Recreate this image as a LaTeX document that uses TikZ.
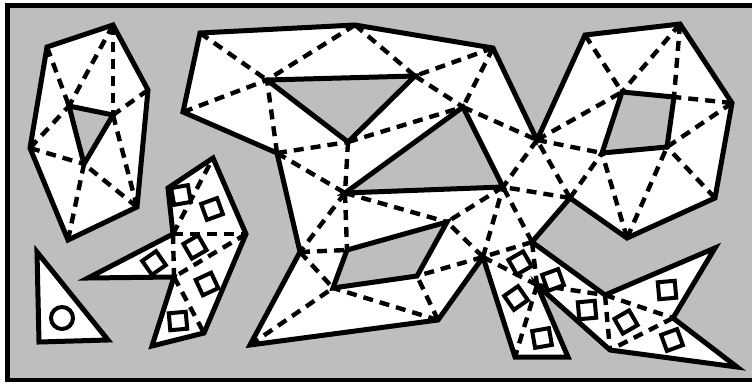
\documentclass[tikz,border=0pt]{standalone}
\usepackage{xcolor}
\definecolor{Field}{RGB}{190,190,190}
\tikzset{
  rim/.style={line width=5pt,line join=miter},
  diag/.style={line width=4.4pt,dash pattern=on 10pt off 7pt},
  guard/.style={draw,fill=white,line width=4pt,minimum size=17pt,inner sep=0pt},
}
\begin{document}
\begin{tikzpicture}[x=1pt,y=-1pt]
\useasboundingbox (0,0) rectangle (752,383);
\fill[white] (0,0) rectangle (752,383);
\draw[fill=Field,line width=4.4pt] (7.5,5.5) rectangle (770,380);
% top left piece
\coordinate (a1) at (47,47);
\coordinate (a2) at (113,25);
\coordinate (a3) at (148,90);
\coordinate (a4) at (137,207);
\coordinate (a5) at (68,240);
\coordinate (a6) at (30,148);
\coordinate (ah1) at (69,106);
\coordinate (ah2) at (113,115);
\coordinate (ah3) at (84,164);
% triangle with the ring
\coordinate (b1) at (37,252);
\coordinate (b2) at (108,340);
\coordinate (b3) at (39,342);
% arrow piece
\coordinate (c1) at (168,188);
\coordinate (c2) at (213,158);
\coordinate (c3) at (246,234);
\coordinate (c4) at (204,333);
\coordinate (c5) at (152,346);
\coordinate (c6) at (174,277);
\coordinate (c7) at (88,278);
\coordinate (c8) at (173,234);
% big piece, outline
\coordinate (d1) at (200,33);
\coordinate (d2) at (355,25);
\coordinate (d3) at (493,48);
\coordinate (d4) at (183,112);
\coordinate (d5) at (277,153);
\coordinate (d6) at (300,252);
\coordinate (d7) at (250,345);
\coordinate (d8) at (438,320);
\coordinate (e1) at (585,35);
\coordinate (e2) at (680,24);
\coordinate (e3) at (732,103);
\coordinate (e4) at (715,198);
\coordinate (e5) at (627,238);
\coordinate (e6) at (570,198);
\coordinate (e7) at (537,140);
\coordinate (f1) at (532,242);
\coordinate (f2) at (605,295);
\coordinate (f3) at (715,248);
\coordinate (f4) at (673,318);
\coordinate (f5) at (737,367);
\coordinate (f6) at (610,350);
\coordinate (f7) at (537,285);
\coordinate (f8) at (568,357);
\coordinate (f9) at (515,357);
\coordinate (f10) at (483,257);
% big piece, holes
\coordinate (g1) at (267,80);
\coordinate (g2) at (415,76);
\coordinate (g3) at (348,142);
\coordinate (k1) at (345,193);
\coordinate (k2) at (463,107);
\coordinate (k3) at (503,187);
\coordinate (p1) at (347,250);
\coordinate (p2) at (447,222);
\coordinate (p3) at (417,276);
\coordinate (p4) at (333,288);
\coordinate (q1) at (622,92);
\coordinate (q2) at (674,97);
\coordinate (q3) at (667,147);
\coordinate (q4) at (602,153);

% white pieces
\fill[white] (a1)--(a2)--(a3)--(a4)--(a5)--(a6)--cycle;
\fill[white] (b1)--(b2)--(b3)--cycle;
\fill[white] (c1)--(c2)--(c3)--(c4)--(c5)--(c6)--(c7)--(c8)--cycle;
\fill[white] (d1)--(d2)--(d3)--(e7)--(e1)--(e2)--(e3)--(e4)--(e5)--(e6)--(f1)--(f2)--(f3)--(f4)--(f5)--(f6)--(f7)--(f8)--(f9)--(f10)--(d8)--(d7)--(d6)--(d5)--(d4)--cycle;
\fill[Field] (ah1)--(ah2)--(ah3)--cycle;
\fill[Field] (g1)--(g2)--(g3)--cycle;
\fill[Field] (k1)--(k2)--(k3)--cycle;
\fill[Field] (p1)--(p2)--(p3)--(p4)--cycle;
\fill[Field] (q1)--(q2)--(q3)--(q4)--cycle;

% diagonals
\draw[diag] (a1)--(ah1);
\draw[diag] (a2)--(ah1);
\draw[diag] (a6)--(ah1);
\draw[diag] (a2)--(ah2);
\draw[diag] (a3)--(ah2);
\draw[diag] (a4)--(ah2);
\draw[diag] (a4)--(ah3);
\draw[diag] (a5)--(ah3);
\draw[diag] (a6)--(ah3);
\draw[diag] (c8)--(c2);
\draw[diag] (c8)--(c3);
\draw[diag] (c8)--(c6);
\draw[diag] (c3)--(c6);
\draw[diag] (c6)--(c4);
\draw[diag] (d1)--(g1);
\draw[diag] (d2)--(g1);
\draw[diag] (d4)--(g1);
\draw[diag] (d5)--(g1);
\draw[diag] (d5)--(g3);
\draw[diag] (d5)--(k1);
\draw[diag] (g3)--(k1);
\draw[diag] (g3)--(k2);
\draw[diag] (d2)--(g2);
\draw[diag] (d3)--(g2);
\draw[diag] (g2)--(k2);
\draw[diag] (d3)--(k2);
\draw[diag] (k2)--(e7);
\draw[diag] (e7)--(k3);
\draw[diag] (k3)--(p2);
\draw[diag] (k1)--(p2);
\draw[diag] (k1)--(d6);
\draw[diag] (k1)--(p1);
\draw[diag] (d6)--(p1);
\draw[diag] (d6)--(p4);
\draw[diag] (d7)--(p4);
\draw[diag] (d8)--(p4);
\draw[diag] (d8)--(p3);
\draw[diag] (f10)--(p3);
\draw[diag] (f10)--(p2);
\draw[diag] (f10)--(k3);
\draw[diag] (e6)--(k3);
\draw[diag] (e6)--(e7);
\draw[diag] (f1)--(k3);
\draw[diag] (f1)--(f10);
\draw[diag] (e1)--(q1);
\draw[diag] (e2)--(q1);
\draw[diag] (e2)--(q2);
\draw[diag] (e3)--(q2);
\draw[diag] (e3)--(q3);
\draw[diag] (e4)--(q3);
\draw[diag] (e5)--(q3);
\draw[diag] (e5)--(q4);
\draw[diag] (e6)--(q4);
\draw[diag] (e7)--(q4);
\draw[diag] (e7)--(q1);
\draw[diag] (f10)--(f7);
\draw[diag] (f1)--(f7);
\draw[diag] (f7)--(f2);
\draw[diag] (f2)--(f6);
\draw[diag] (f2)--(f4);
\draw[diag] (f4)--(f6);
\draw[diag] (f7)--(f9);

% guards
\node[guard,rotate=10] (s1) at (181,195) {};
\node[guard,rotate=20] (s2) at (212,209) {};
\node[guard,rotate=30] (s3) at (195,247) {};
\node[guard,rotate=35] (s4) at (154,263) {};
\node[guard,rotate=25] (s5) at (207,284) {};
\node[guard,rotate=5] (s6) at (178,321) {};
\node[guard,rotate=30] (s7) at (520,263) {};
\node[guard,rotate=20] (s8) at (553,280) {};
\node[guard,rotate=35] (s9) at (516,298) {};
\node[guard,rotate=10] (s10) at (542,338) {};
\node[guard,rotate=5] (s11) at (587,310) {};
\node[guard,rotate=30] (s12) at (626,322) {};
\node[guard,rotate=5] (s13) at (667,290) {};
\node[guard,rotate=20] (s14) at (672,340) {};
\node[circle,draw,line width=4pt,minimum size=22pt,inner sep=0pt] (ring) at (62,318) {};

% outlines
\draw[rim] (a1)--(a2)--(a3)--(a4)--(a5)--(a6)--cycle;
\draw[rim] (ah1)--(ah2)--(ah3)--cycle;
\draw[rim] (b1)--(b2)--(b3)--cycle;
\draw[rim] (c1)--(c2)--(c3)--(c4)--(c5)--(c6)--(c7)--(c8)--cycle;
\draw[rim] (d1)--(d2)--(d3)--(e7)--(e1)--(e2)--(e3)--(e4)--(e5)--(e6)--(f1)--(f2)--(f3)--(f4)--(f5)--(f6)--(f7)--(f8)--(f9)--(f10)--(d8)--(d7)--(d6)--(d5)--(d4)--cycle;
\draw[rim] (g1)--(g2)--(g3)--cycle;
\draw[rim] (k1)--(k2)--(k3)--cycle;
\draw[rim] (p1)--(p2)--(p3)--(p4)--cycle;
\draw[rim] (q1)--(q2)--(q3)--(q4)--cycle;
\end{tikzpicture}
\end{document}
